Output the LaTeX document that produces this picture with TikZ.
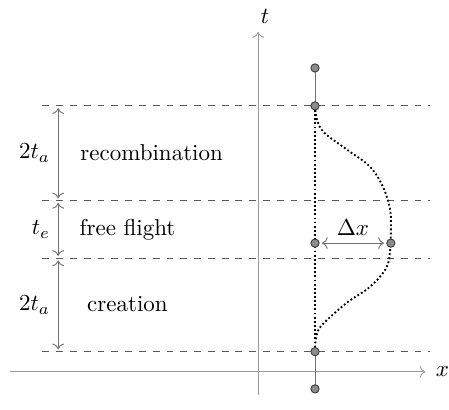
\documentclass[tikz,border=0pt]{standalone}
\usetikzlibrary{arrows.meta,positioning}
\definecolor{axisgray}{HTML}{9A9A9A}
\definecolor{levelgray}{HTML}{5A5A5A}
\definecolor{spangray}{HTML}{707070}
\definecolor{dotfill}{HTML}{8C8C8C}
\definecolor{dotline}{HTML}{3C3C3C}

\begin{document}
\begin{tikzpicture}[
  axisline/.style={->,axisgray},
  level/.style={dashed,levelgray},
  span/.style={<->,draw=spangray,text=black,shorten <=1pt,shorten >=1pt},
  track/.style={thick,densely dotted},
  endpt/.style={circle,fill=dotfill,draw=dotline,inner sep=0pt,minimum size=3.6pt}
]
  \useasboundingbox (-3.95,-0.57) rectangle (2.92,5.69);

  % axes
  \coordinate (xmin) at (-3.79,0);
  \coordinate (xmax) at (2.56,0);
  \coordinate (tmin) at (0,-0.35);
  \coordinate (tmax) at (0,5.2);
  \draw[axisline] (xmin) -- (xmax);
  \draw[axisline] (tmin) -- (tmax);
  \node[right=1pt of xmax] (xlab) {$x$};
  \node[above=0pt of tmax,xshift=3pt] (tlab) {$t$};

  % time levels
  \coordinate (l0) at (-3.30,4.07); \coordinate (r0) at (2.63,4.07);
  \coordinate (l1) at (-3.30,2.62); \coordinate (r1) at (2.63,2.62);
  \coordinate (l2) at (-3.30,1.74); \coordinate (r2) at (2.63,1.74);
  \coordinate (l3) at (-3.30,0.31); \coordinate (r3) at (2.63,0.31);
  \foreach \i in {0,...,3} \draw[level] (l\i) -- (r\i);

  % particle track
  \coordinate (top) at (0.87,4.65);
  \coordinate (recend) at (0.87,4.07);
  \coordinate (mid) at (0.87,1.97);
  \coordinate (crestart) at (0.87,0.31);
  \coordinate (bot) at (0.87,-0.26);
  \coordinate (far) at (2.03,1.97);
  \draw[spangray] (top) -- (recend);
  \draw[spangray] (crestart) -- (bot);
  \draw[track] (recend) -- (crestart);
  \draw[track] plot[smooth,tension=0.6] coordinates {(recend) (0.90,3.86) (1.01,3.66) (1.36,3.40)
    (1.71,3.14) (1.91,2.83) (2.02,2.48) (2.03,2.17) (2.02,1.87) (1.96,1.59) (1.71,1.30)
    (1.36,1.06) (0.98,0.72) (0.89,0.54) (crestart)};
  \foreach \p in {top,recend,mid,crestart,bot,far} \node[endpt] (\p dot) at (\p) {};
  \draw[span] (middot) -- (fardot) node[midway,above] (dx) {$\Delta x$};

  % phases
  \coordinate (s0) at (-3.06,4.07);
  \coordinate (s1) at (-3.06,2.62);
  \coordinate (s2) at (-3.06,1.74);
  \coordinate (s3) at (-3.06,0.31);
  \draw[span] (s0) -- (s1) node[midway,left] (ta1) {$2t_a$};
  \draw[span] (s1) -- (s2) node[midway,left] (te) {$t_e$};
  \draw[span] (s2) -- (s3) node[midway,left] (ta2) {$2t_a$};
  \node (recomb) at (-1.63,3.35) {recombination};
  \node (flight) at (-2.0,2.18) {free flight};
  \node (creation) at (-2.0,1.03) {creation};
\end{tikzpicture}
\end{document}
